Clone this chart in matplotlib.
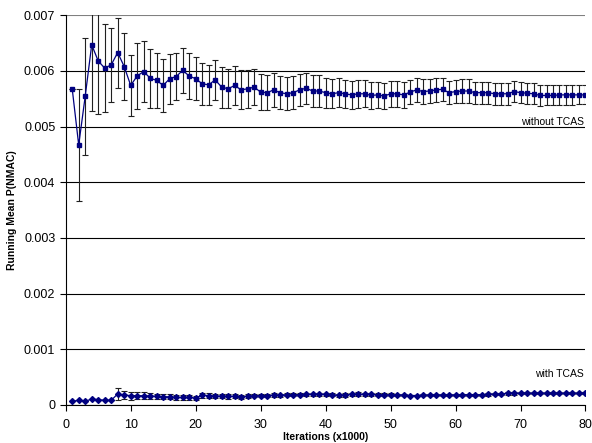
import matplotlib
matplotlib.use("Agg")
import matplotlib.pyplot as plt

plt.rcParams['font.family'] = ['Liberation Sans', 'DejaVu Sans']

iterations = list(range(1, 81))

# running mean P(NMAC), units of 1e-3
without_tcas = [
    5.68, 4.67, 5.545, 6.47, 6.18, 6.05, 6.11, 6.33, 6.08, 5.74,
    5.91, 5.99, 5.87, 5.83, 5.74, 5.86, 5.90, 6.01, 5.91, 5.86,
    5.77, 5.75, 5.84, 5.71, 5.68, 5.74, 5.66, 5.68, 5.71, 5.62,
    5.61, 5.66, 5.61, 5.59, 5.61, 5.66, 5.69, 5.64, 5.64, 5.61,
    5.59, 5.61, 5.59, 5.57, 5.59, 5.59, 5.56, 5.57, 5.55, 5.59,
    5.59, 5.57, 5.62, 5.66, 5.63, 5.64, 5.66, 5.67, 5.61, 5.63,
    5.64, 5.64, 5.61, 5.61, 5.61, 5.59, 5.59, 5.59, 5.63, 5.61,
    5.60, 5.59, 5.56, 5.56, 5.56, 5.57, 5.57, 5.57, 5.57, 5.57,
]
without_err = [
    0.0, 1.01, 1.05, 1.19, 0.95, 0.79, 0.67, 0.63, 0.60, 0.55,
    0.60, 0.55, 0.53, 0.50, 0.47, 0.45, 0.42, 0.41, 0.41, 0.39,
    0.38, 0.36, 0.36, 0.37, 0.35, 0.35, 0.35, 0.34, 0.33, 0.32,
    0.32, 0.31, 0.30, 0.30, 0.30, 0.29, 0.28, 0.28, 0.28, 0.27,
    0.26, 0.26, 0.25, 0.25, 0.25, 0.24, 0.24, 0.24, 0.23, 0.23,
    0.23, 0.23, 0.22, 0.22, 0.22, 0.22, 0.22, 0.21, 0.21, 0.21,
    0.21, 0.21, 0.20, 0.20, 0.20, 0.20, 0.20, 0.20, 0.19, 0.19,
    0.19, 0.19, 0.19, 0.18, 0.18, 0.18, 0.18, 0.18, 0.17, 0.17,
]
with_tcas = [
    0.066, 0.084, 0.066, 0.108, 0.096, 0.084, 0.084, 0.198, 0.180, 0.168,
    0.168, 0.165, 0.160, 0.155, 0.150, 0.145, 0.135, 0.135, 0.135, 0.126,
    0.174, 0.170, 0.160, 0.160, 0.155, 0.155, 0.150, 0.155, 0.170, 0.170,
    0.170, 0.175, 0.175, 0.186, 0.186, 0.186, 0.190, 0.190, 0.190, 0.190,
    0.185, 0.175, 0.180, 0.190, 0.195, 0.190, 0.190, 0.185, 0.185, 0.185,
    0.180, 0.180, 0.170, 0.170, 0.175, 0.180, 0.180, 0.180, 0.180, 0.180,
    0.185, 0.185, 0.185, 0.185, 0.190, 0.195, 0.200, 0.210, 0.210, 0.210,
    0.210, 0.210, 0.210, 0.210, 0.210, 0.210, 0.210, 0.210, 0.210, 0.210,
]
with_err = [
    0.0, 0.0, 0.0, 0.0, 0.0, 0.0, 0.0, 0.10, 0.08, 0.07,
    0.065, 0.06, 0.055, 0.05, 0.05, 0.045, 0.045, 0.04, 0.04, 0.04,
    0.045, 0.045, 0.04, 0.04, 0.04, 0.035, 0.035, 0.035, 0.035, 0.035,
    0.035, 0.035, 0.03, 0.03, 0.03, 0.03, 0.03, 0.03, 0.03, 0.03,
    0.03, 0.03, 0.03, 0.03, 0.03, 0.03, 0.03, 0.025, 0.025, 0.025,
    0.025, 0.02, 0.015, 0.015, 0.015, 0.02, 0.02, 0.02, 0.02, 0.02,
    0.02, 0.02, 0.02, 0.02, 0.02, 0.02, 0.02, 0.025, 0.025, 0.02,
    0.02, 0.02, 0.02, 0.02, 0.02, 0.02, 0.02, 0.02, 0.02, 0.02,
]

y_ticks = [0, 0.001, 0.002, 0.003, 0.004, 0.005, 0.006, 0.007]
y_tick_labels = ['0', '0.001', '0.002', '0.003', '0.004', '0.005', '0.006', '0.007']
x_ticks = [0, 10, 20, 30, 40, 50, 60, 70, 80]

scale = 1e-3
navy = '#000080'

fig = plt.figure(figsize=(5.92, 4.43), dpi=100)
ax = fig.add_axes([0.111, 0.0858, 0.878, 0.8797])

for y in y_ticks:
    ax.axhline(y, color='#808080' if y == 0.007 else 'black', linewidth=0.8, zorder=1)

ax.errorbar(iterations, [v * scale for v in without_tcas],
            yerr=[e * scale for e in without_err],
            fmt='none', ecolor='#202020', elinewidth=0.8, capsize=2.5, capthick=0.8, zorder=2)
ax.plot(iterations, [v * scale for v in without_tcas], color=navy, linewidth=0.9,
        marker='s', markersize=3.5, zorder=3)

ax.errorbar(iterations, [v * scale for v in with_tcas],
            yerr=[e * scale for e in with_err],
            fmt='none', ecolor='#202020', elinewidth=0.8, capsize=2.5, capthick=0.8, zorder=2)
ax.plot(iterations, [v * scale for v in with_tcas], color=navy, linewidth=0.9,
        marker='D', markersize=3.0, zorder=3)

ax.set_xlim(0, 80)
ax.set_ylim(0, 0.007)
ax.set_xticks(x_ticks)
ax.set_yticks(y_ticks)
ax.set_yticklabels(y_tick_labels)
ax.tick_params(axis='both', labelsize=9, length=4, width=0.8, direction='out', colors='black')
ax.tick_params(axis='x', pad=6)

for side in ['top', 'right']:
    ax.spines[side].set_visible(False)
for side in ['left', 'bottom']:
    ax.spines[side].set_color('black')
    ax.spines[side].set_linewidth(0.8)

ax.set_xlabel('Iterations (x1000)', fontsize=7.5, fontweight='bold', labelpad=1)
ax.set_ylabel('Running Mean P(NMAC)', fontsize=7.5, fontweight='bold', labelpad=5)

ax.text(79.7, 0.00508, 'without TCAS', fontsize=7.5, ha='right', va='center')
ax.text(79.7, 0.00056, 'with TCAS', fontsize=7.5, ha='right', va='center')

fig.savefig('out.png', dpi=100)
